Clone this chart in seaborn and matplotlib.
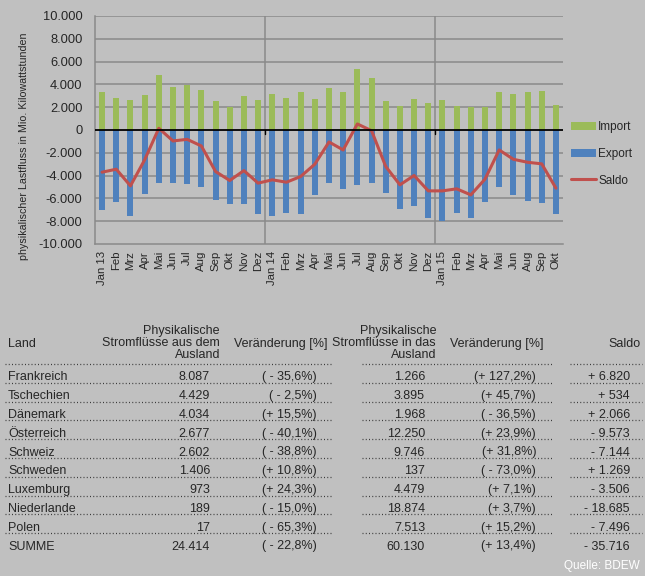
import numpy as np
import pandas as pd
import matplotlib
matplotlib.use('Agg')
import matplotlib.pyplot as plt
import seaborn as sns
from matplotlib.lines import Line2D

# --- chart data (Mio. kWh) ---
monate = ['Jan 13', 'Feb', 'Mrz', 'Apr', 'Mai', 'Jun', 'Jul', 'Aug', 'Sep', 'Okt', 'Nov', 'Dez',
          'Jan 14', 'Feb', 'Mrz', 'Apr', 'Mai', 'Jun', 'Jul', 'Aug', 'Sep', 'Okt', 'Nov', 'Dez',
          'Jan 15', 'Feb', 'Mrz', 'Apr', 'Mai', 'Jun', 'Aug', 'Sep', 'Okt']
import_werte = [3320, 2850, 2650, 3030, 4820, 3740, 3970, 3530, 2560, 2060, 2940, 2650,
                3180, 2790, 3290, 2760, 3680, 3320, 5350, 4590, 2530, 2120, 2740, 2380,
                2650, 2120, 2030, 2000, 3290, 3120, 3320, 3410, 2210]
export_werte = [-7060, -6300, -7580, -5600, -4660, -4660, -4750, -5040, -6150, -6530, -6470, -7350,
                -7520, -7320, -7400, -5740, -4660, -5160, -4810, -4660, -5540, -6970, -6700, -7760,
                -7990, -7320, -7730, -6330, -5010, -5690, -6200, -6410, -7350]
saldo_werte = [-3700, -3440, -4900, -2620, 150, -960, -820, -1400, -3640, -4430, -3560, -4660,
               -4370, -4580, -4080, -3000, -1050, -1750, 530, -60, -3200, -4810, -3990, -5340,
               -5340, -5160, -5690, -4310, -1750, -2570, -2830, -2970, -5100]
jahr_grenzen = [11.5, 23.5]

# --- table data ---
laender = ['Frankreich', 'Tschechien', 'Dänemark', 'Österreich', 'Schweiz', 'Schweden',
           'Luxemburg', 'Niederlande', 'Polen', 'SUMME']
aus_ausland = [8087, 4429, 4034, 2677, 2602, 1406, 973, 189, 17, 24414]
aus_aenderung = [-35.6, -2.5, 15.5, -40.1, -38.8, 10.8, 24.3, -15.0, -65.3, -22.8]
in_ausland = [1266, 3895, 1968, 12250, 9746, 137, 4479, 18874, 7513, 60130]
in_aenderung = [127.2, 45.7, -36.5, 23.9, 31.8, -73.0, 7.1, 3.7, 15.2, 13.4]
saldo_land = [6820, 534, 2066, -9573, -7144, 1269, -3506, -18685, -7496, -35716]

bg = '#C0C0C0'
c_import = '#9BBB59'
c_export = '#4F81BD'
c_saldo = '#C0504D'
grid_c = '#8A8A8A'

sns.set_style('white')
plt.rcParams['font.family'] = ['Liberation Sans', 'DejaVu Sans']

W, H = 645, 576
fig = plt.figure(figsize=(W / 100, H / 100), dpi=100, facecolor=bg)


def fx(x):
    return x / W


def fy(y):
    return 1 - y / H


ax = fig.add_axes([fx(95), fy(244), fx(563) - fx(95), fy(16) - fy(244)])
ax.set_facecolor(bg)
ax.set_axisbelow(True)

df = pd.DataFrame({'pos': range(len(monate)), 'monat': monate,
                   'Import': import_werte, 'Export': export_werte, 'Saldo': saldo_werte})

sns.barplot(data=df, x='pos', y='Import', color=c_import, saturation=1, width=0.42,
            errorbar=None, ax=ax, label='Import', linewidth=0)
sns.barplot(data=df, x='pos', y='Export', color=c_export, saturation=1, width=0.42,
            errorbar=None, ax=ax, label='Export', linewidth=0)
sns.lineplot(data=df, x='pos', y='Saldo', color=c_saldo, linewidth=2.2, ax=ax,
             label='Saldo', zorder=4)
for p in ax.patches:
    p.set_zorder(3)

ax.set_xlim(-0.5, len(monate) - 0.5)
ax.set_ylim(-10000, 10000)
yt = np.arange(-10000, 10001, 2000)
ax.set_yticks(yt)
ax.set_yticklabels([f'{v:,.0f}'.replace(',', '.') for v in yt], fontsize=9.3)
ax.set_xticks(range(len(monate)))
ax.set_xticklabels(monate, rotation=90, fontsize=8.2)
ax.tick_params(axis='x', length=0, pad=5)
ax.tick_params(axis='y', length=3, width=0.8, color=grid_c, pad=6)
ax.set_xlabel('')
ax.set_ylabel('')

for v in yt:
    if v != 0 and v != -10000:
        ax.axhline(v, color=grid_c, lw=1.1, zorder=1)
ax.axhline(0, color='black', lw=1.3, zorder=5)
for g in jahr_grenzen:
    ax.axvline(g, color=grid_c, lw=1.1, zorder=1)
    ax.plot([g, g], [0, -350], color='black', lw=1, zorder=5)

for s in ['top', 'right']:
    ax.spines[s].set_visible(False)
for s in ['left', 'bottom']:
    ax.spines[s].set_color(grid_c)
    ax.spines[s].set_linewidth(1.1)

handles, labels = ax.get_legend_handles_labels()
reihenfolge = ['Import', 'Export', 'Saldo']
hmap = dict(zip(labels, handles))
ax.legend([hmap[l] for l in reihenfolge], reihenfolge,
          loc='upper left', bbox_to_anchor=(fx(571), fy(121)), bbox_transform=fig.transFigure,
          frameon=False, fontsize=8.5, handlelength=2.1, handleheight=0.65,
          handletextpad=0.2, labelspacing=1.25, borderpad=0, borderaxespad=0)

fig.text(fx(24), fy(146), 'physikalischer Lastfluss in Mio. Kilowattstunden',
         rotation=90, ha='center', va='center', fontsize=7.7)

# --- table ---
fs = 9
fig.text(fx(8), fy(344), 'Land', ha='left', va='center', fontsize=fs)
fig.text(fx(220), fy(343), 'Physikalische\nStromflüsse aus dem\nAusland', ha='right',
         va='center', multialignment='right', fontsize=fs, linespacing=1.05)
fig.text(fx(327), fy(344), 'Veränderung [%]', ha='right', va='center', fontsize=fs)
fig.text(fx(436), fy(343), 'Physikalische\nStromflüsse in das\nAusland', ha='right',
         va='center', multialignment='right', fontsize=fs, linespacing=1.05)
fig.text(fx(543), fy(344), 'Veränderung [%]', ha='right', va='center', fontsize=fs)
fig.text(fx(641), fy(344), 'Saldo', ha='right', va='center', fontsize=fs)


def zahl(v):
    return f'{abs(v):,.0f}'.replace(',', '.')


def proz(v):
    s = f'{abs(v):.1f}'.replace('.', ',')
    return f'(+ {s}%)' if v >= 0 else f'( - {s}%)'


def saldo_txt(v):
    return f'+ {zahl(v)}' if v >= 0 else f'- {zahl(v)}'


line0 = 364
step = 18.8
segmente = [(5, 333), (362, 552), (570, 642)]
for k in range(len(laender)):
    ly = line0 + k * step
    for a, b in segmente:
        fig.add_artist(Line2D([fx(a), fx(b)], [fy(ly), fy(ly)], color='#3A3A3A', lw=0.9,
                              linestyle=(0, (0.8, 1.8))))
    base = fy(ly + step - 2.5)
    fig.text(fx(8), base, laender[k], ha='left', va='baseline', fontsize=fs)
    fig.text(fx(210), base, zahl(aus_ausland[k]), ha='right', va='baseline', fontsize=fs)
    fig.text(fx(317), base, proz(aus_aenderung[k]), ha='right', va='baseline', fontsize=fs)
    fig.text(fx(425), base, zahl(in_ausland[k]), ha='right', va='baseline', fontsize=fs)
    fig.text(fx(536), base, proz(in_aenderung[k]), ha='right', va='baseline', fontsize=fs)
    fig.text(fx(630), base, saldo_txt(saldo_land[k]), ha='right', va='baseline', fontsize=fs)

fig.text(fx(640), fy(566), 'Quelle: BDEW', ha='right', va='center', fontsize=8.5, color='white')

fig.savefig('out.png', dpi=100, facecolor=bg)
